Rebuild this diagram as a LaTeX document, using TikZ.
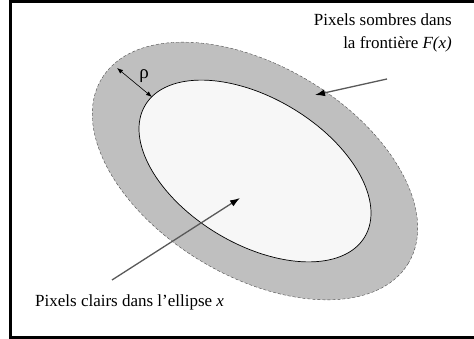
\documentclass[tikz,border=0pt]{standalone}
\usepackage{fontspec}
\setmainfont{Liberation Serif}
\usepackage{tikz}
\usetikzlibrary{
	arrows.meta,
	calc,
	positioning
}

\tikzset{
	label text/.style={font=\fontsize{17}{23.5}\selectfont, inner sep=0pt},
	pointer/.style={draw=black!65, line width=1.3pt, -{Latex[length=10pt,width=7pt,fill=black,color=black]}},
}

\begin{document}
\begin{tikzpicture}[x=1pt,y=-1pt]
	% cadre
	\useasboundingbox (0,0) rectangle (474,339);
	\draw[line width=3pt] (10.5,1.5) rectangle (475,337.5);
	
	% ellipses (couronne puis intérieur)
	\coordinate (O) at (255,171);
	\begin{scope}[shift={(O)}, rotate=-31]
		\fill[gray!50] (0,0) ellipse [x radius=179, y radius=105];
		\draw[black!70, densely dashed, line width=0.4pt] (0,0) ellipse [x radius=179, y radius=105];
		\filldraw[fill=black!3, draw=black, line width=0.7pt] (0,0) ellipse [x radius=128, y radius=73];
	\end{scope}
	
	% textes
	\node[label text, anchor=base east, align=right] (sombre) at (452,49)
		{Pixels sombres dans\\la frontière \textit{F(x)}};
	\node[label text, anchor=base west] (clair) at (35,306)
		{Pixels clairs dans l’ellipse \textit{x}};
	\node[font=\fontsize{19}{20}\selectfont, inner sep=0pt] (rho) at (144,76) {ρ};
	
	% flèches
	\coordinate (s1) at (387,79);
	\coordinate (s2) at (315,95);
	\draw[pointer] (s1) -- (s2);
	\coordinate (c1) at (112,280);
	\coordinate (c2) at (240,198);
	\draw[pointer] (c1) -- (c2);
	\coordinate (r1) at (117,68);
	\coordinate (r2) at (152,97);
	\draw[line width=0.6pt, {Latex[length=6pt,width=4.5pt]}-{Latex[length=6pt,width=4.5pt]}] (r1) -- (r2);
\end{tikzpicture}
\end{document}
